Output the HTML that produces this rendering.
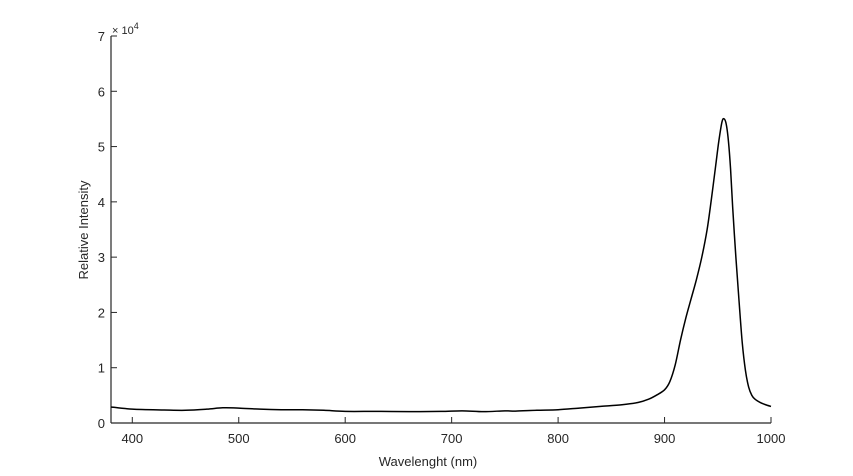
<!DOCTYPE html>
<html><head><meta charset="utf-8"><style>
html,body{margin:0;padding:0;background:#fff;}
svg{display:block;font-family:"Liberation Sans",sans-serif;}
</style></head><body>
<svg id="chart" width="853" height="476">
<rect width="853" height="476" fill="#fff"/>
<g id="axes"></g>
<path id="line" fill="none" stroke="#000" stroke-width="1.5"/>
<text x="428" y="466" font-size="13" text-anchor="middle" fill="#262626">Wavelenght (nm)</text>
<text transform="translate(88,230) rotate(-90)" font-size="13" text-anchor="middle" fill="#262626">Relative Intensity</text>
<text x="112" y="34" font-size="11" fill="#262626">× 10<tspan dy="-5" font-size="9">4</tspan></text>
</svg>
<script>
const wavelengths=[380,400,430,450,470,485,500,520,540,560,580,600,630,660,690,710,730,750,760,780,800,820,840,860,875,885,893,900,905,910,915,920,925,930,935,940,944,948,951,954,956,958,960,962,964,967,970,973,976,979,982,985,990,995,1000];
const intensity=[2900,2500,2350,2300,2500,2750,2700,2500,2400,2400,2300,2100,2100,2050,2100,2200,2050,2200,2150,2300,2400,2700,3000,3300,3700,4300,5100,6000,7500,10500,15000,19000,22500,26000,30000,35000,40500,46500,51000,54500,55000,54000,51000,46000,39000,30000,22000,14500,9500,6500,5000,4300,3700,3300,3000];
const xTicks=[400,500,600,700,800,900,1000];
const yTicks=[0,1,2,3,4,5,6,7];
const L=111,R=771,T=36,B=423,xmin=380,xmax=1000,ymax=70000;
const X=v=>L+(v-xmin)/(xmax-xmin)*(R-L);
const Y=v=>B-v/ymax*(B-T);
const ax=document.getElementById('axes');
const NS='http://www.w3.org/2000/svg';
function mk(t,a){const e=document.createElementNS(NS,t);for(const k in a)e.setAttribute(k,a[k]);ax.appendChild(e);return e;}
const xa=mk('path',{d:`M${L},${B}H${R}`,stroke:'#262626','stroke-width':1.2,fill:'none'});


const ya=mk('path',{d:`M${L},${B}V${T}`,stroke:'#262626','stroke-width':1.2,fill:'none'});


xTicks.forEach(v=>{
 const x=X(v);
 mk('path',{d:`M${x},${B}V${B-6}`,stroke:'#262626'});
 const t=mk('text',{x:x,y:B+20,'font-size':13,'text-anchor':'middle',fill:'#262626'});t.textContent=v;
 
 
});
yTicks.forEach(v=>{
 const y=Y(v*10000);
 mk('path',{d:`M${L},${y}H${L+6}`,stroke:'#262626'});
 const t=mk('text',{x:L-6,y:y+5,'font-size':13,'text-anchor':'end',fill:'#262626'});t.textContent=v;
 
 
});
const P=wavelengths.map((w,i)=>[X(w),Y(intensity[i])]);
let d=`M${P[0][0]},${P[0][1]}`;
for(let i=0;i<P.length-1;i++){
 const p0=P[i-1]||P[i],p1=P[i],p2=P[i+1],p3=P[i+2]||P[i+1];
 const c1=[p1[0]+(p2[0]-p0[0])/6,p1[1]+(p2[1]-p0[1])/6];
 const c2=[p2[0]-(p3[0]-p1[0])/6,p2[1]-(p3[1]-p1[1])/6];
 d+=`C${c1[0]},${c1[1]} ${c2[0]},${c2[1]} ${p2[0]},${p2[1]}`;
}
document.getElementById('line').setAttribute('d',d);
</script>
</body></html>
